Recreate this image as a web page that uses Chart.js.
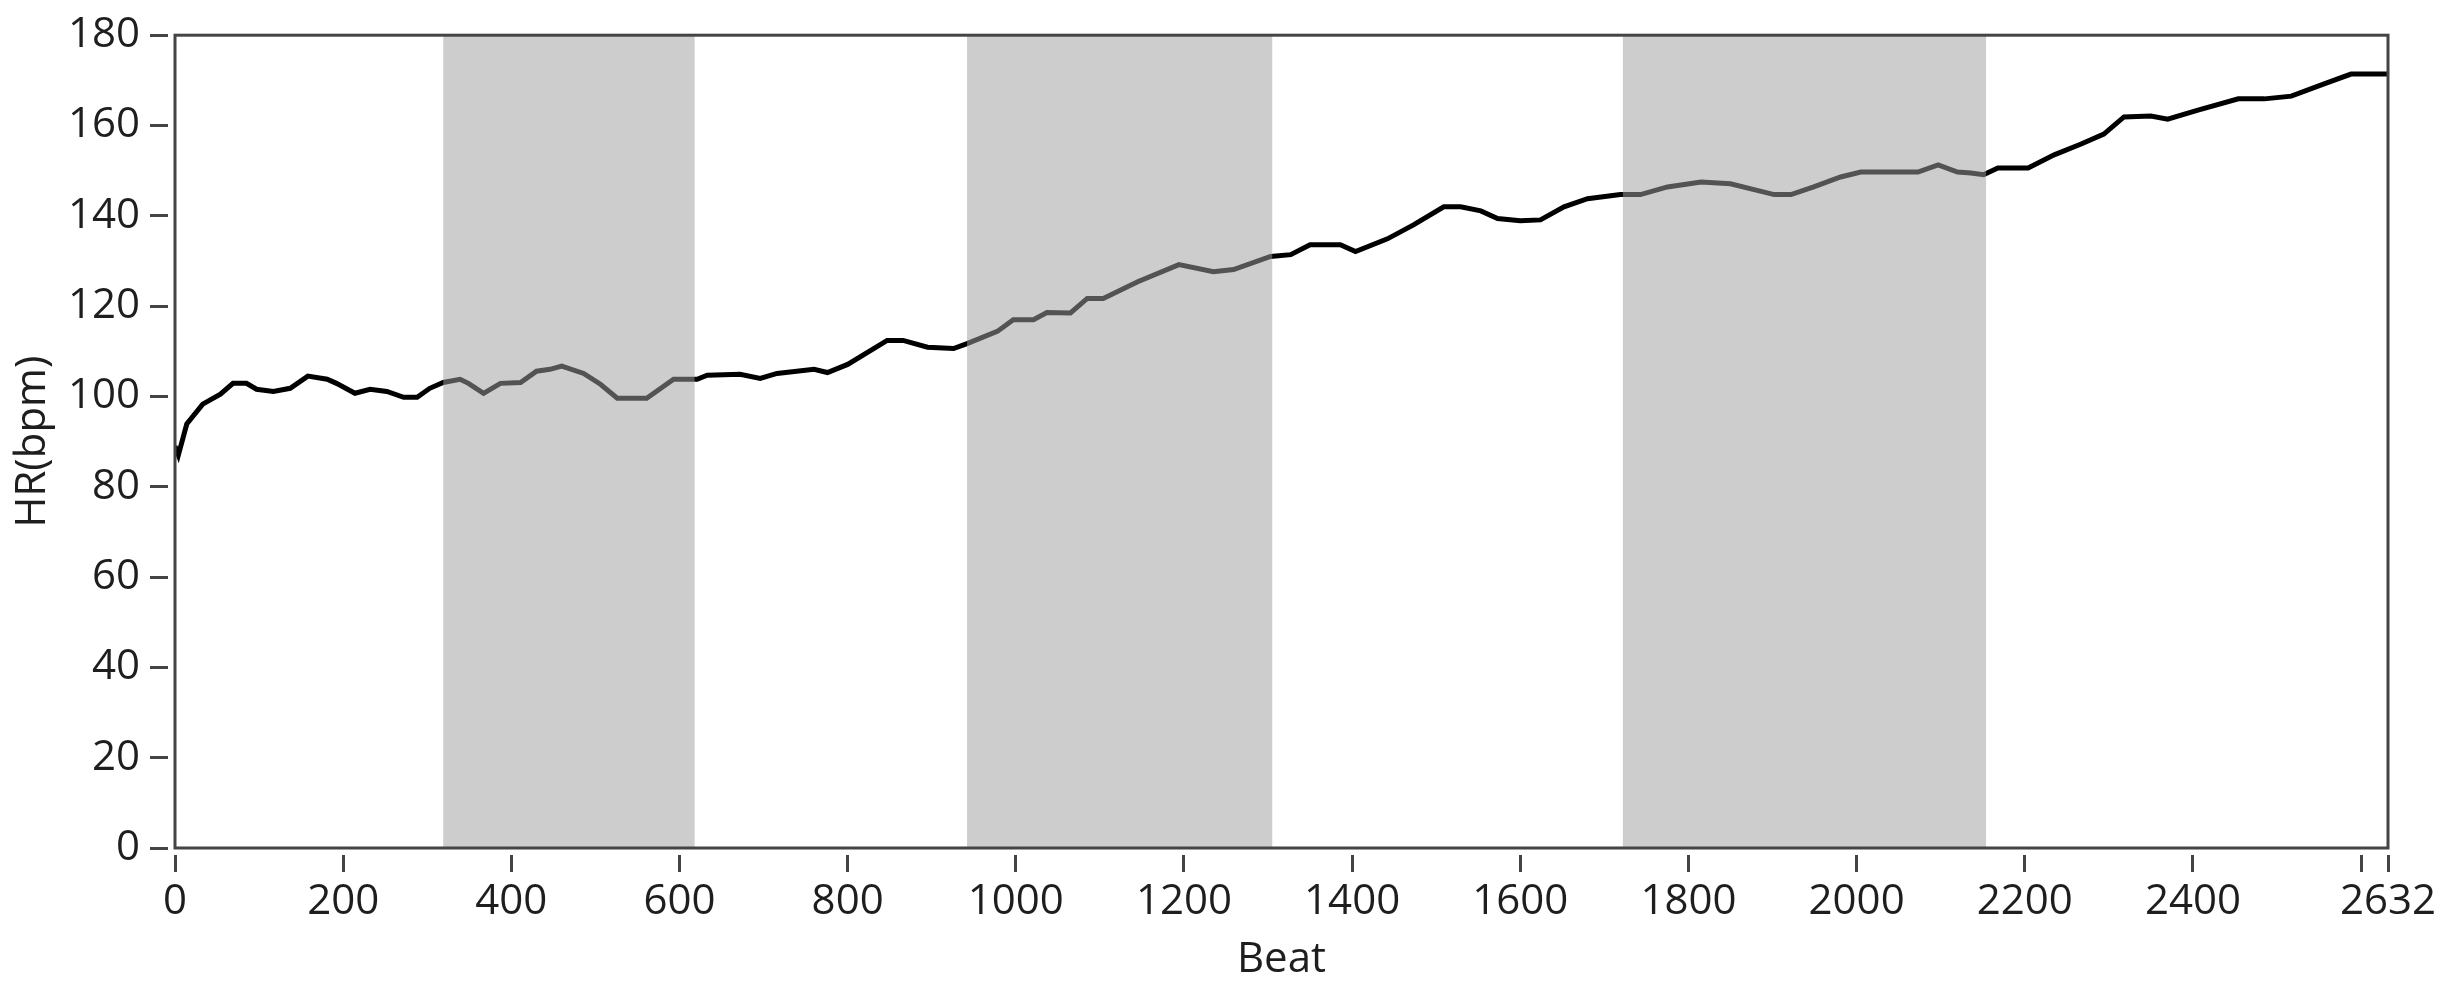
<!DOCTYPE html>
<html>
<head>
<meta charset="utf-8">
<title>HR by beat</title>
<script src="https://cdn.jsdelivr.net/npm/chart.js@4.4.1/dist/chart.umd.min.js"></script>
<style>
  html, body { margin: 0; padding: 0; background: #fff; }
  canvas { display: block; }
</style>
</head>
<body>
<canvas id="hrChart" width="2451" height="1004"></canvas>
<script>
// beat index and heart rate
var beats = [0, 4, 14, 33, 54, 69, 85, 97, 117, 137, 158, 181, 192, 214, 232, 252, 272, 288, 303, 319,
    339, 349, 367, 387, 411, 430, 446, 460, 486, 506, 526, 561, 593, 621, 633, 672, 696, 716, 760, 776,
    800, 831, 847, 866, 895, 926, 942, 978, 997, 1021, 1037, 1065, 1085, 1104, 1145, 1194, 1235, 1259, 1303, 1327,
    1350, 1386, 1404, 1442, 1473, 1509, 1529, 1553, 1573, 1600, 1624, 1652, 1680, 1719, 1743, 1775, 1815, 1850, 1878, 1902,
    1922, 1949, 1981, 2005, 2073, 2097, 2120, 2136, 2151, 2168, 2204, 2235, 2267, 2294, 2318, 2350, 2370, 2406, 2454, 2485,
    2517, 2556, 2588, 2632];
var hr = [89, 87, 93.9, 98.3, 100.5, 102.9, 102.9, 101.6, 101.1, 101.8, 104.5, 103.8, 102.9, 100.7, 101.6, 101.1, 99.8, 99.8, 101.8, 103.1,
    103.8, 102.9, 100.7, 102.9, 103.1, 105.6, 106.0, 106.7, 105.1, 102.7, 99.6, 99.6, 103.8, 103.8, 104.7, 104.9, 104.0, 105.1, 106.0, 105.3,
    107.1, 110.6, 112.4, 112.4, 110.9, 110.6, 111.7, 114.4, 117.0, 117.0, 118.6, 118.5, 121.7, 121.7, 125.4, 129.2, 127.6, 128.1, 131.0, 131.4,
    133.6, 133.6, 132.1, 134.9, 138.0, 142.0, 142.0, 141.1, 139.4, 138.9, 139.1, 142.0, 143.8, 144.7, 144.7, 146.4, 147.5, 147.1, 145.8, 144.7,
    144.7, 146.4, 148.6, 149.7, 149.7, 151.3, 149.7, 149.5, 149.1, 150.6, 150.6, 153.5, 155.9, 158.1, 161.9, 162.1, 161.4, 163.4, 165.9, 165.9,
    166.5, 169.2, 171.4, 171.4];

// shaded stages (beat ranges)
var bandStart = [319, 942, 1722];
var bandEnd = [618, 1305, 2154];

var xTicks = [0, 200, 400, 600, 800, 1000, 1200, 1400, 1600, 1800, 2000, 2200, 2400, 2600, 2632];
var xHidden = [2600];
var yTicks = [0, 20, 40, 60, 80, 100, 120, 140, 160, 180];

var font = { family: '"Open Sans", "Noto Sans", sans-serif', size: 42 };
var textColor = '#1e1e1e';

var bandPlugin = {
    id: 'bands',
    afterDatasetsDraw: function (chart) {
        var ctx = chart.ctx, area = chart.chartArea, xs = chart.scales.x;
        ctx.save();
        ctx.fillStyle = 'rgba(160,160,160,0.52)';
        for (var i = 0; i < bandStart.length; i++) {
            var x1 = xs.getPixelForValue(bandStart[i]);
            var x2 = xs.getPixelForValue(bandEnd[i]);
            ctx.fillRect(x1, area.top, x2 - x1, area.bottom - area.top);
        }
        // frame round the plot
        ctx.strokeStyle = '#444';
        ctx.lineWidth = 3;
        ctx.strokeRect(area.left, area.top, area.right - area.left, area.bottom - area.top);
        ctx.restore();
    }
};

var ctx = document.getElementById('hrChart').getContext('2d');
new Chart(ctx, {
    type: 'line',
    data: {
        datasets: [{
            data: beats.map(function (b, i) { return { x: b, y: hr[i] }; }),
            borderColor: '#000',
            borderWidth: 5,
            pointRadius: 0,
            tension: 0,
            fill: false
        }]
    },
    options: {
        responsive: false,
        animation: false,
        layout: { padding: { top: 33, right: 63, left: 0, bottom: 0 } },
        plugins: { legend: { display: false }, tooltip: { enabled: false } },
        scales: {
            x: {
                type: 'linear',
                min: 0,
                max: 2632,
                afterBuildTicks: function (s) { s.ticks = xTicks.map(function (v) { return { value: v }; }); },
                afterFit: function (s) { s.height = 156; },
                border: { display: false },
                grid: { drawOnChartArea: false, tickLength: 24, tickWidth: 3, tickColor: '#444', tickBorderDash: [0, 7, 17, 40] },
                ticks: {
                    autoSkip: false, maxRotation: 0, padding: 5, font: font, color: textColor,
                    callback: function (v) { return xHidden.indexOf(v) >= 0 ? '' : String(v); }
                },
                title: { display: true, text: 'Beat', font: font, color: textColor, padding: { top: 0, bottom: 19 } }
            },
            y: {
                min: 0,
                max: 180,
                afterBuildTicks: function (s) { s.ticks = yTicks.map(function (v) { return { value: v }; }); },
                afterFit: function (s) { s.width = 175; },
                border: { display: false },
                grid: { drawOnChartArea: false, tickLength: 25, tickWidth: 3, tickColor: '#444', tickBorderDash: [18, 40] },
                ticks: { padding: 10, font: font, color: textColor, callback: function (v) { return String(v); } },
                title: { display: true, text: 'HR(bpm)', font: font, color: textColor, padding: { top: 8, bottom: 0 } }
            }
        }
    },
    plugins: [bandPlugin]
});
</script>
</body>
</html>
